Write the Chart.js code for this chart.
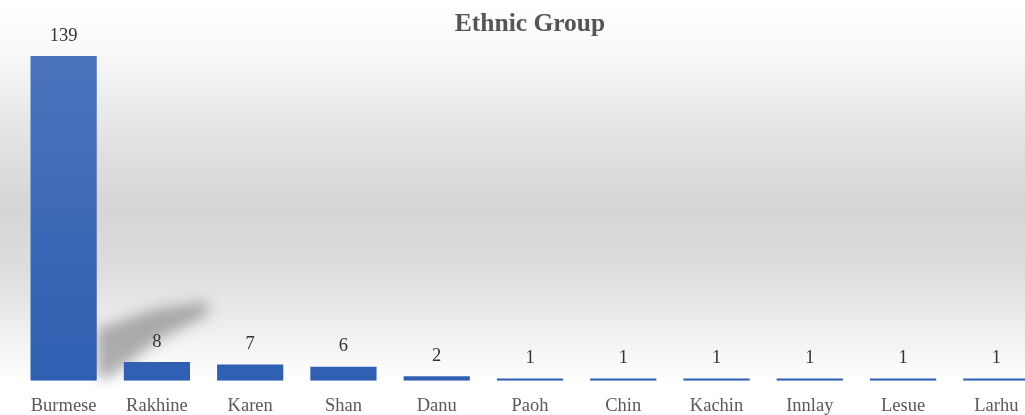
<!DOCTYPE html>
<html>
<head>
<meta charset="utf-8">
<script src="https://cdn.jsdelivr.net/npm/chart.js@4/dist/chart.umd.min.js"></script>
<style>
  body { margin: 0; background: #fff; overflow: hidden; }
  #wrap { width: 1025px; height: 415px; overflow: hidden; }
</style>
</head>
<body>
<div id="wrap"><canvas id="myChart" width="1046" height="431"></canvas></div>
<script>
// data
var groups = ['Burmese', 'Rakhine', 'Karen', 'Shan', 'Danu', 'Paoh', 'Chin', 'Kachin', 'Innlay', 'Lesue', 'Larhu'];
var counts = [139, 8, 7, 6, 2, 1, 1, 1, 1, 1, 1];

var ctx = document.getElementById('myChart');

// soft grey band behind the plot
const backdrop = {
  id: 'backdrop',
  beforeDraw(chart) {
    const c = chart.ctx;
    const h = 415;
    const g = c.createLinearGradient(0, 0, 0, h);
    g.addColorStop(0, '#ffffff');
    g.addColorStop(0.12, '#f9f9f9');
    g.addColorStop(0.35, '#e1e1e1');
    g.addColorStop(0.5, '#d6d6d6');
    g.addColorStop(0.65, '#dddddd');
    g.addColorStop(0.82, '#f2f2f2');
    g.addColorStop(0.92, '#ffffff');
    g.addColorStop(1, '#ffffff');
    c.save();
    c.fillStyle = '#ffffff';
    c.fillRect(0, 0, chart.width, chart.height);
    c.fillStyle = g;
    c.fillRect(0, 0, chart.width, h);
    c.restore();
  },
  beforeDatasetsDraw(chart) {
    // the slanted shadow cast by the tall first bar
    const bar = chart.getDatasetMeta(0).data[0];
    if (!bar) return;
    const r = bar.x + bar.width / 2;
    const b = bar.base;
    const c = chart.ctx;
    c.save();
    c.filter = 'blur(7px)';
    c.fillStyle = 'rgba(100,100,100,0.5)';
    c.beginPath();
    c.moveTo(r, b - 4);
    c.lineTo(r, b - 52);
    c.lineTo(r + 60, b - 72);
    c.lineTo(r + 110, b - 79);
    c.lineTo(r + 112, b - 67);
    c.lineTo(r + 60, b - 40);
    c.lineTo(r + 12, b - 2);
    c.closePath();
    c.fill();
    c.restore();
  }
};

// value labels above the bars
const valueLabels = {
  id: 'valueLabels',
  afterDatasetsDraw(chart) {
    const c = chart.ctx;
    c.save();
    c.font = '18.5px "Liberation Serif"';
    c.fillStyle = '#333333';
    c.textAlign = 'center';
    c.textBaseline = 'bottom';
    chart.getDatasetMeta(0).data.forEach(function (bar, i) {
      c.fillText(counts[i], bar.x, bar.y - 11);
    });
    c.restore();
  }
};

const barColor = function (context) {
  const area = context.chart.chartArea;
  if (!area) return '#4472c4';
  const g = context.chart.ctx.createLinearGradient(0, area.top, 0, area.bottom);
  g.addColorStop(0, '#4a73bb');
  g.addColorStop(1, '#2f5fb2');
  return g;
};

const config = {
  type: 'bar',
  data: {
    labels: groups,
    datasets: [{
      label: 'Ethnic Group',
      data: counts,
      backgroundColor: barColor,
      borderWidth: 0,
      barPercentage: 0.71,
      categoryPercentage: 1
    }]
  },
  options: {
    responsive: false,
    animation: false,
    layout: { padding: { left: 17, right: 3, top: 0, bottom: 0 } },
    plugins: {
      legend: { display: false },
      tooltip: { enabled: false },
      title: {
        display: true,
        text: 'Ethnic Group',
        color: '#555555',
        font: { family: '"Liberation Serif"', size: 25.5, weight: 'bold' },
        padding: { top: 9, bottom: 16.4 }
      }
    },
    scales: {
      x: {
        grid: { display: false, drawTicks: false },
        border: { display: false },
        ticks: {
          color: '#595959',
          font: { family: '"Liberation Serif"', size: 18.5 },
          padding: 14,
          maxRotation: 0,
          autoSkip: false
        }
      },
      y: {
        display: false,
        min: 0,
        max: 139
      }
    }
  },
  plugins: [backdrop, valueLabels]
};

const myChart = new Chart(ctx, config);
</script>
</body>
</html>
